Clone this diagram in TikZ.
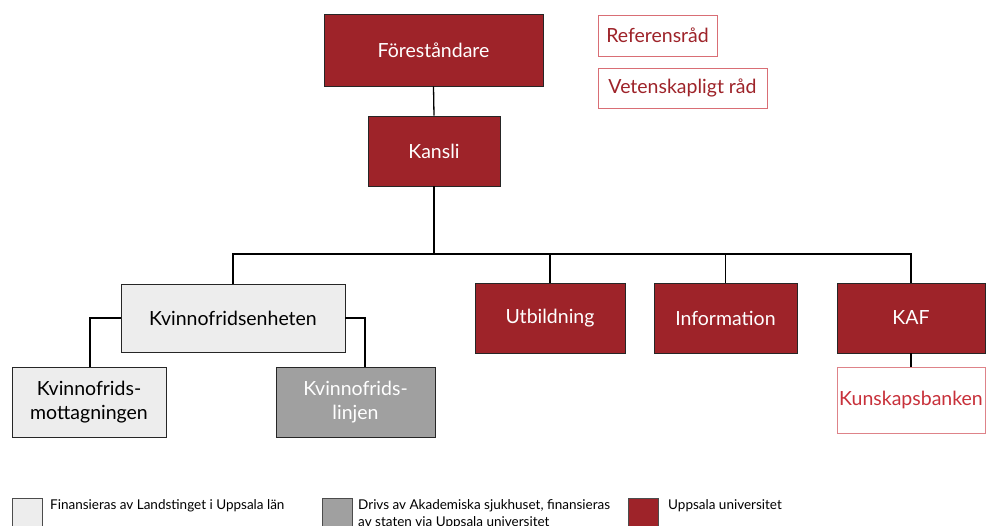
\documentclass[tikz,border=0pt]{standalone}
\usepackage{fontspec}
\setmainfont{Lato}
\definecolor{uured}{HTML}{9E2329}
\definecolor{lred}{HTML}{C8303A}
\definecolor{lgray}{HTML}{EDEDED}
\definecolor{mgray}{HTML}{A0A0A0}
\begin{document}
\begin{tikzpicture}[x=1pt,y=-1pt,
  box/.style={draw=black!85,line width=0.9pt,inner sep=0pt,font=\fontsize{19.5}{24}\selectfont,align=center},
  redbox/.style={box,fill=uured,text=white},
  lgbox/.style={box,fill=lgray,text=black},
  mgbox/.style={box,fill=mgray,text=white},
  outbox/.style={draw=lred!70,line width=0.9pt,inner sep=0pt,fill=white,font=\fontsize{19.5}{24}\selectfont,text=uured,align=center},
  conn/.style={draw=black,line width=1.3pt},
  leg/.style={draw=black!70,line width=0.8pt},
  legtext/.style={anchor=north west,font=\fontsize{13.5}{17}\selectfont,align=left,inner sep=0pt}]
\clip (0,0) rectangle (986,526);
\useasboundingbox (0,0) rectangle (986,526);
% boxes
\node[redbox,minimum width=219pt,minimum height=72pt] (fore) at (433.5,50) {Föreståndare};
\node[outbox,minimum width=119pt,minimum height=41pt] (ref) at (657.5,35.5) {Referensråd};
\node[outbox,minimum width=169pt,minimum height=40pt] (vet) at (682.5,88) {Vetenskapligt råd};
\node[redbox,minimum width=132pt,minimum height=70pt] (kansli) at (434,151) {Kansli};
\node[lgbox,minimum width=224pt,minimum height=68pt] (kvf) at (233,318) {Kvinnofridsenheten};
\node[redbox,minimum width=150pt,minimum height=70pt] (utb) at (550,318) {Utbildning};
\node[redbox,minimum width=143pt,minimum height=70pt] (inf) at (725.5,318) {Information};
\node[redbox,minimum width=148pt,minimum height=70pt] (kaf) at (911,318) {KAF};
\node[outbox,draw=lred!60,text=lred,minimum width=148pt,minimum height=66pt] (kb) at (911,400) {Kunskapsbanken};
\node[lgbox,minimum width=154pt,minimum height=70pt] (mott) at (89,402) {Kvinnofrids-\\mottagningen};
\node[mgbox,minimum width=159pt,minimum height=70pt] (linj) at (355.5,402) {Kvinnofrids-\\linjen};
% connectors
\coordinate (bar) at (434,254);
\draw[conn] (fore.south) -- (kansli.north);
\draw[conn] (kansli.south) -- (bar);
\draw[conn] (kvf.north) -- (233,254) -- (911,254) -- (kaf.north);
\draw[conn] (550,254) -- (utb.north);
\draw[conn] (725.5,254) -- (inf.north);
\draw[conn] (kaf.south) -- (kb.north);
\draw[conn] (kvf.west) -- (90,318) -- (90,367);
\draw[conn] (kvf.east) -- (365,318) -- (365,367);
% legend
\node[leg,fill=lgray,minimum width=30pt,minimum height=34pt,inner sep=0pt,anchor=north west] (l1) at (12,498) {};
\node[legtext] (t1) at (50,499) {Finansieras av Landstinget i Uppsala län};
\node[leg,fill=mgray,minimum width=30pt,minimum height=34pt,inner sep=0pt,anchor=north west] (l2) at (322,498) {};
\node[legtext] (t2) at (358,499) {Drivs av Akademiska sjukhuset, finansieras\\av staten via Uppsala universitet};
\node[leg,fill=uured,minimum width=30pt,minimum height=34pt,inner sep=0pt,anchor=north west] (l3) at (628,498) {};
\node[legtext] (t3) at (668,499) {Uppsala universitet};
\end{tikzpicture}
\end{document}
